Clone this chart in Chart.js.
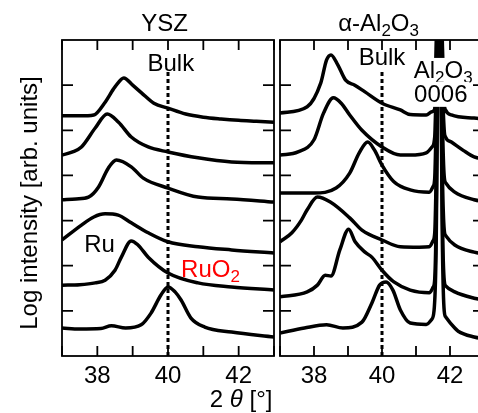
<!DOCTYPE html>
<html>
<head>
<meta charset="utf-8">
<script src="https://cdn.jsdelivr.net/npm/chart.js@4.4.0/dist/chart.umd.min.js"></script>
<style>
html, body { margin: 0; padding: 0; background: #fff; overflow: hidden; width: 478px; height: 413px; }
#yszChart { position: absolute; left: 0; top: 0; }
#alChart { position: absolute; left: 274px; top: 0; }
</style>
</head>
<body>
<canvas id="yszChart" width="280" height="413"></canvas>
<canvas id="alChart" width="216" height="413"></canvas>
<script>
// YSZ substrate, top to bottom
const yszX1 = [37, 37.5, 37.9, 38.2, 38.5, 38.75, 39.0, 39.25, 39.6, 40.0, 40.5, 41.0, 41.5, 42.0, 42.5, 43.0];
const yszY1 = [5.32, 5.32, 5.34, 5.6, 5.96, 6.16, 6.0, 5.83, 5.6, 5.49, 5.36, 5.29, 5.25, 5.22, 5.2, 5.18];
const yszX2 = [37, 37.3, 37.55, 37.94, 38.28, 38.6, 38.96, 39.44, 40, 40.85, 41.8, 43];
const yszY2 = [4.45, 4.52, 4.63, 5.05, 5.36, 5.18, 4.85, 4.63, 4.52, 4.39, 4.3, 4.28];
const yszX3 = [37, 37.4, 37.75, 38.03, 38.31, 38.54, 38.96, 39.3, 40, 40.85, 41.8, 43];
const yszY3 = [3.46, 3.48, 3.52, 3.74, 4.16, 4.34, 4.19, 3.94, 3.72, 3.52, 3.48, 3.41];
const yszX4 = [37, 37.55, 37.9, 38.22, 38.59, 38.96, 39.44, 40, 40.85, 41.8, 43];
const yszY4 = [2.57, 2.9, 3.08, 3.15, 3.12, 2.95, 2.73, 2.53, 2.42, 2.35, 2.28];
const yszX5 = [37, 37.5, 37.94, 38.22, 38.5, 38.68, 38.96, 39.15, 39.44, 40, 40.85, 41.8, 43];
const yszY5 = [1.57, 1.58, 1.62, 1.68, 1.9, 2.19, 2.55, 2.46, 2.19, 1.84, 1.62, 1.53, 1.46];
const yszX6 = [37, 37.5, 38.1, 38.4, 38.8, 39.24, 39.52, 39.8, 40.0, 40.2, 40.37, 40.65, 41.04, 41.8, 43];
const yszY6 = [0.62, 0.6, 0.61, 0.67, 0.62, 0.69, 0.95, 1.35, 1.53, 1.42, 1.24, 0.84, 0.64, 0.53, 0.42];

// alpha-Al2O3 substrate, top to bottom (0006 substrate peak near 41.68)
const alX1 = [37, 37.8, 38.2, 38.37, 38.5, 38.7, 38.93, 39.2, 39.5, 40.0, 40.54, 40.83, 41.3, 41.47, 41.55, 41.59, 41.685, 41.78, 41.83, 41.87, 42.04, 42.71, 43];
const alY1 = [5.38, 5.52, 6.05, 6.56, 6.67, 6.45, 6.11, 6.0, 5.85, 5.6, 5.45, 5.35, 5.34, 5.41, 5.47, 6.8, 9.5, 6.8, 5.6, 5.45, 5.34, 5.27, 5.25];
const alX2 = [37, 37.53, 38.0, 38.28, 38.57, 38.8, 39.05, 39.41, 40.0, 40.54, 40.83, 41.3, 41.47, 41.55, 41.59, 41.685, 41.78, 41.83, 41.87, 42.04, 42.4, 42.71, 43];
const alY2 = [4.45, 4.52, 4.79, 5.38, 5.72, 5.6, 5.34, 5.0, 4.63, 4.45, 4.45, 4.5, 4.63, 4.85, 5.9, 9.5, 5.95, 5.0, 4.85, 4.74, 4.55, 4.41, 4.36];
const alX3 = [37, 38.0, 38.65, 39.05, 39.33, 39.58, 39.78, 40.0, 40.35, 40.83, 41.39, 41.5, 41.55, 41.59, 41.685, 41.78, 41.83, 41.88, 42.14, 42.71, 43];
const alY3 = [3.61, 3.61, 3.72, 4.05, 4.5, 4.74, 4.56, 4.23, 3.86, 3.68, 3.63, 3.75, 3.93, 5.1, 9.5, 5.1, 3.98, 3.83, 3.63, 3.46, 3.42];
const alX4 = [37, 37.35, 37.63, 37.8, 38.1, 38.48, 39.05, 39.41, 40.0, 40.54, 41.1, 41.39, 41.5, 41.55, 41.59, 41.685, 41.78, 41.83, 41.88, 42.14, 42.71, 43];
const alY4 = [2.53, 2.73, 3.01, 3.24, 3.52, 3.41, 3.06, 2.79, 2.57, 2.42, 2.41, 2.42, 2.55, 2.72, 3.9, 9.5, 3.9, 2.8, 2.66, 2.46, 2.3, 2.26];
const alX5 = [37, 37.8, 38.1, 38.33, 38.5, 38.76, 39.02, 39.21, 39.5, 39.7, 40.0, 40.35, 40.83, 41.39, 41.5, 41.55, 41.59, 41.685, 41.78, 41.83, 41.88, 42.14, 42.71, 43];
const alY5 = [1.31, 1.42, 1.57, 1.79, 1.77, 2.35, 2.81, 2.53, 2.3, 2.19, 1.9, 1.64, 1.46, 1.4, 1.52, 1.7, 2.9, 9.5, 2.9, 1.68, 1.55, 1.42, 1.28, 1.24];
const alX6 = [37, 37.72, 38.37, 38.85, 39.41, 39.7, 39.93, 40.12, 40.32, 40.54, 40.83, 41.3, 41.45, 41.53, 41.59, 41.685, 41.78, 41.83, 41.88, 42.14, 42.24, 42.71, 43];
const alY6 = [0.51, 0.62, 0.69, 0.62, 0.75, 1.17, 1.57, 1.64, 1.46, 1.02, 0.73, 0.7, 0.8, 1.0, 2.3, 9.5, 2.3, 1.0, 0.86, 0.62, 0.55, 0.42, 0.38];

// bulk Ru position (dotted line)
const bulkX = [40, 40];
const bulkY = [0, 6.29];

const xTickLabels = [38, 40, 42];

const FONT = "'Liberation Sans', Arial, sans-serif";

const curve = (xs, ys) => ({ data: xs.map((x, i) => ({ x: x, y: ys[i] })) });
const bulkLine = () => ({
    data: bulkX.map((x, i) => ({ x: x, y: bulkY[i] })),
    borderDash: [4, 3],
    borderWidth: 3,
    cubicInterpolationMode: 'default',
    tension: 0
});

// text with subscripts / italics
const drawParts = (ctx, parts, x, y, align) => {
    const fontOf = p => (p.it ? 'italic ' : '') + (p.sub ? '17px ' : '24px ') + FONT;
    let w = 0;
    parts.forEach(p => { ctx.font = fontOf(p); w += ctx.measureText(p.t).width; });
    let cx = align === 'center' ? x - w / 2 : x;
    parts.forEach(p => {
        ctx.font = fontOf(p);
        ctx.fillText(p.t, cx, p.sub ? y + 5 : y);
        cx += ctx.measureText(p.t).width;
    });
    return w;
};

const decor = {
    id: 'decor',
    afterDatasetsDraw(chart, args, opts) {
        const ctx = chart.ctx;
        const a = chart.chartArea;
        const x = chart.scales.x, y = chart.scales.y;
        ctx.save();
        ctx.textAlign = 'left';
        ctx.textBaseline = 'alphabetic';

        (opts.labels || []).forEach(l => {
            const px = x.getPixelForValue(l.x), py = y.getPixelForValue(l.y);
            if (l.bg) {
                let w = 0;
                l.parts.forEach(p => { ctx.font = (p.sub ? '17px ' : '24px ') + FONT; w += ctx.measureText(p.t).width; });
                ctx.fillStyle = '#fff';
                ctx.fillRect(px - w / 2 - 2, py - 20, w + 4, 25);
            }
            ctx.fillStyle = l.color || '#000';
            drawParts(ctx, l.parts, px, py, l.align);
        });

        // panel title
        ctx.fillStyle = '#000';
        drawParts(ctx, opts.title, x.getPixelForValue(39.9), a.top - 9, 'center');

        // frame and inward ticks
        ctx.strokeStyle = '#000';
        ctx.lineWidth = 1.8;
        ctx.strokeRect(a.left, a.top, a.right - a.left, a.bottom - a.top);
        ctx.beginPath();
        for (let v = x.min; v <= x.max; v++) {
            const p = x.getPixelForValue(v);
            ctx.moveTo(p, a.bottom); ctx.lineTo(p, a.bottom - 10);
            ctx.moveTo(p, a.top); ctx.lineTo(p, a.top + 10);
        }
        for (let v = y.min + 1; v < y.max; v++) {
            const p = y.getPixelForValue(v);
            ctx.moveTo(a.left, p); ctx.lineTo(a.left + 11, p);
            ctx.moveTo(a.right, p); ctx.lineTo(a.right - 11, p);
        }
        ctx.stroke();

        if (opts.axisTitles) {
            ctx.fillStyle = '#000';
            drawParts(ctx, [{ t: '2 ' }, { t: 'θ', it: true }, { t: ' [°]' }], x.getPixelForValue(42.07), chart.height - 6, 'center');
            ctx.save();
            ctx.translate(a.left - 25, (a.top + a.bottom) / 2 + 5);
            ctx.rotate(-Math.PI / 2);
            ctx.font = '24px ' + FONT;
            ctx.textAlign = 'center';
            ctx.fillText('Log intensity [arb. units]', 0, 0);
            ctx.restore();
        }
        ctx.restore();
    }
};

const makeChart = (id, datasets, pad, decorOpts) => new Chart(document.getElementById(id), {
    type: 'line',
    data: { datasets: datasets },
    options: {
        responsive: false,
        animation: false,
        layout: { padding: pad },
        plugins: { legend: { display: false }, tooltip: { enabled: false }, decor: decorOpts },
        elements: {
            point: { radius: 0 },
            line: { borderWidth: 3.5, borderColor: '#000', cubicInterpolationMode: 'monotone' }
        },
        scales: {
            x: {
                type: 'linear', min: 37, max: 43,
                afterFit: s => { s.height = 57; },
                grid: { display: false, drawTicks: false },
                border: { display: false },
                ticks: {
                    stepSize: 1, padding: 6, autoSkip: false, maxRotation: 0, color: '#000',
                    font: { size: 24, family: FONT },
                    callback: v => xTickLabels.includes(v) ? String(v) : ''
                }
            },
            y: { min: 0, max: 7, display: false }
        }
    },
    plugins: [decor]
});

makeChart('yszChart', [
    curve(yszX1, yszY1), curve(yszX2, yszY2), curve(yszX3, yszY3),
    curve(yszX4, yszY4), curve(yszX5, yszY5), curve(yszX6, yszY6), bulkLine()
], { left: 62, right: 5, top: 40, bottom: 0 }, {
    title: [{ t: 'YSZ' }],
    axisTitles: true,
    labels: [
        { parts: [{ t: 'Bulk' }], x: 40.08, y: 6.31, align: 'center' },
        { parts: [{ t: 'Ru' }], x: 37.63, y: 2.3, align: 'left' },
        { parts: [{ t: 'RuO' }, { t: '2', sub: true }], x: 40.37, y: 1.75, align: 'left', color: 'rgb(255,0,0)' }
    ]
});

makeChart('alChart', [
    curve(alX1, alY1), curve(alX2, alY2), curve(alX3, alY3),
    curve(alX4, alY4), curve(alX5, alY5), curve(alX6, alY6), bulkLine()
], { left: 1, right: 3, top: 40, bottom: 0 }, {
    title: [{ t: 'α-Al' }, { t: '2', sub: true }, { t: 'O' }, { t: '3', sub: true }],
    labels: [
        { parts: [{ t: 'Bulk' }], x: 40.0, y: 6.45, align: 'center' },
        { parts: [{ t: 'Al' }, { t: '2', sub: true }, { t: 'O' }, { t: '3', sub: true }], x: 41.8, y: 6.16, align: 'center', bg: true },
        { parts: [{ t: '0006' }], x: 41.73, y: 5.63, align: 'center', bg: true }
    ]
});
</script>
</body>
</html>
